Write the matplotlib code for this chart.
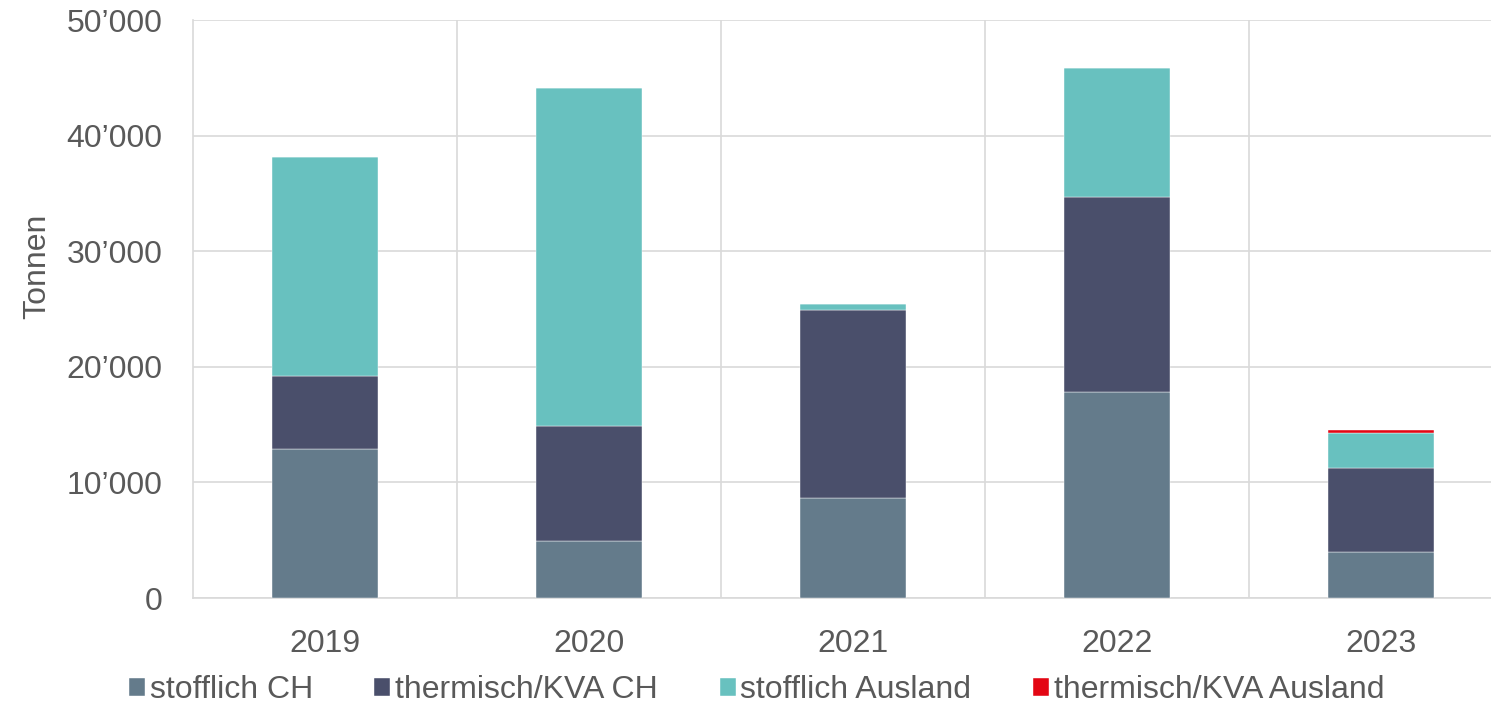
import matplotlib.pyplot as plt
from matplotlib.ticker import FuncFormatter

years = ["2019", "2020", "2021", "2022", "2023"]
stofflich_ch = [12900, 4930, 8650, 17820, 3980]
thermisch_ch = [6300, 9950, 16250, 16870, 7270]
stofflich_ausland = [18950, 29220, 530, 11160, 3020]
thermisch_ausland = [0, 0, 0, 0, 250]

series = [
    ("stofflich CH", stofflich_ch, "#647b8b"),
    ("thermisch/KVA CH", thermisch_ch, "#4a4f6b"),
    ("stofflich Ausland", stofflich_ausland, "#68c1bf"),
    ("thermisch/KVA Ausland", thermisch_ausland, "#e30613"),
]

plt.rcParams["font.family"] = ["Liberation Sans", "DejaVu Sans"]
text_color = "#595959"
grid_color = "#d9d9d9"
fs = 23

fig = plt.figure(figsize=(14.91, 7.04), dpi=100)
ax = fig.add_axes([193 / 1491, 1 - 598 / 704, 1320 / 1491, 578 / 704])

x = list(range(len(years)))
bottom = [0] * len(years)
for name, vals, color in series:
    ax.bar(x, vals, width=0.4, bottom=bottom, color=color, label=name,
           edgecolor="white", linewidth=0.3, zorder=3)
    bottom = [b + v for b, v in zip(bottom, vals)]

ax.set_xlim(-0.5, len(years) - 0.5)
ax.set_ylim(0, 50000)
ax.set_yticks(range(0, 50001, 10000))
ax.yaxis.set_major_formatter(FuncFormatter(
    lambda v, p: "{:,.0f}".format(v).replace(",", "\u2019")))
ax.set_xticks(x)
ax.set_xticklabels(years)

# gridlines: horizontal at ticks, vertical between categories
ax.grid(axis="y", color=grid_color, linewidth=1.2, zorder=0)
for b in [i + 0.5 for i in range(len(years) - 1)]:
    ax.axvline(b, color=grid_color, linewidth=1.2, zorder=0)

for s in ["top", "right"]:
    ax.spines[s].set_visible(False)
for s in ["left", "bottom"]:
    ax.spines[s].set_color(grid_color)
    ax.spines[s].set_linewidth(1.2)

ax.tick_params(axis="both", length=0, labelsize=fs, labelcolor=text_color)
ax.tick_params(axis="y", pad=22)
ax.tick_params(axis="x", pad=22)
ax.set_ylabel("Tonnen", fontsize=fs, color=text_color)
ax.yaxis.set_label_coords(-141 / 1320, 0.574)

ax.legend(loc="center", bbox_to_anchor=(0.5074, 1 - 690 / 704), ncol=4,
          bbox_transform=fig.transFigure,
          frameon=False, fontsize=fs, labelcolor=text_color,
          handlelength=0.5, handleheight=0.5, handletextpad=0.15,
          columnspacing=1.93, borderpad=0.1)

fig.savefig("out.png", dpi=100)
